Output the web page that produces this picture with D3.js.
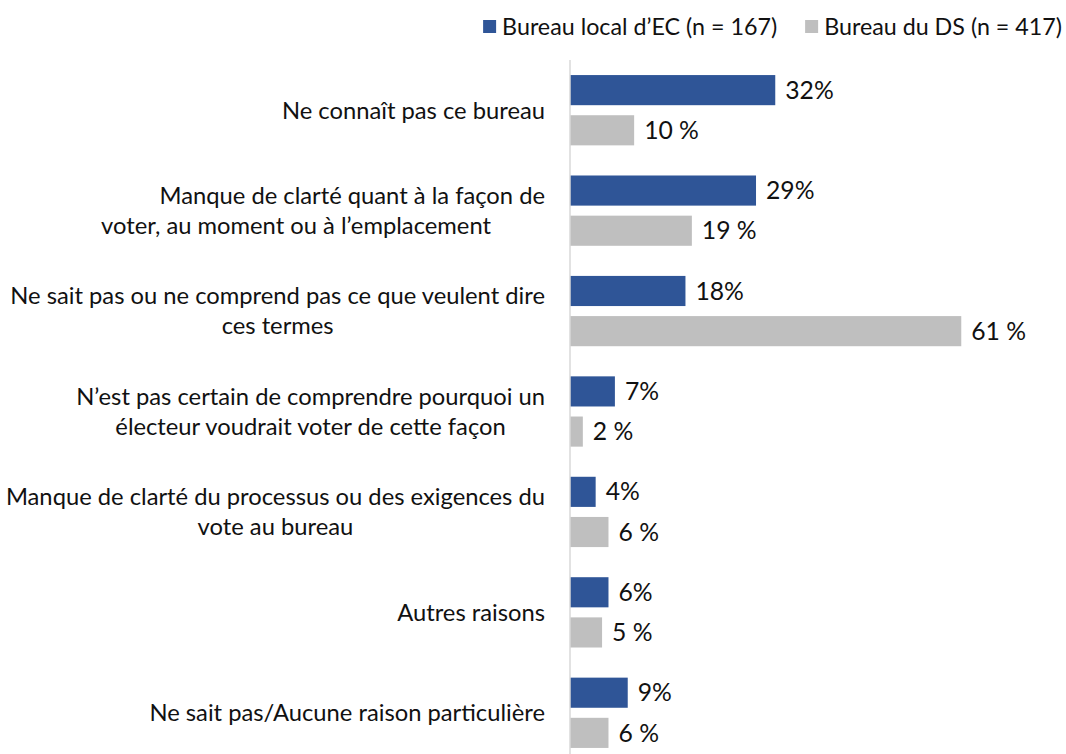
<!DOCTYPE html>
<html>
<head>
<meta charset="utf-8">
<script src="https://cdn.jsdelivr.net/npm/d3@7"></script>
<style>
  html, body { margin: 0; padding: 0; background: #fff; }
  svg text { font-family: Lato, "Open Sans", sans-serif; fill: #111; }
</style>
</head>
<body>
<svg id="chart" width="1066" height="754"></svg>
<script>
// ── Data ──
const categories = [
  ['Ne connaît pas ce bureau'],
  ['Manque de clarté quant à la façon de', 'voter, au moment ou à l’emplacement'],
  ['Ne sait pas ou ne comprend pas ce que veulent dire', 'ces termes'],
  ['N’est pas certain de comprendre pourquoi un', 'électeur voudrait voter de cette façon'],
  ['Manque de clarté du processus ou des exigences du', 'vote au bureau'],
  ['Autres raisons'],
  ['Ne sait pas/Aucune raison particulière']
];
const seriesKeys   = ['ec', 'ds'];
const seriesNames  = ['Bureau local d’EC (n = 167)', 'Bureau du DS (n = 417)'];
const ecValues     = [32, 29, 18, 7, 4, 6, 9];
const dsValues     = [10, 19, 61, 2, 6, 5, 6];

const COLORS = { ec: '#2F5597', ds: '#BFBFBF' };
const FMT = { ec: v => v + '%', ds: v => v + '\u00A0%' };

const svg = d3.select('#chart');
const AXIS_X = 570, LABEL_RIGHT = 545, LINE_H = 30;

// ── Fit font so the widest category line matches the reference width ──
const probe = svg.append('text').attr('font-size', 20).text(categories[2][0]);
const fs = 20 * 535 / probe.node().getComputedTextLength();
probe.remove();

const rows = categories.map((lines, i) => ({ i, lines, ec: ecValues[i], ds: dsValues[i] }));

const y0 = d3.scaleBand().domain(d3.range(categories.length))
  .range([60, 763]).paddingInner(0.3).paddingOuter(0.15);
const y1 = d3.scaleBand().domain(seriesKeys).range([0, y0.bandwidth()]).paddingInner(0.25);
const x = d3.scaleLinear().domain([0, 70]).range([AXIS_X, 1019]);

// ── Bars ──
const groups = svg.append('g').selectAll('g').data(rows).join('g')
  .attr('transform', d => `translate(0,${y0(d.i)})`);

groups.selectAll('rect').data(d => seriesKeys.map(k => ({ k, v: d[k] }))).join('rect')
  .attr('x', x(0)).attr('y', d => y1(d.k))
  .attr('width', d => x(d.v) - x(0)).attr('height', y1.bandwidth())
  .attr('fill', d => COLORS[d.k]);

groups.selectAll('text.val').data(d => seriesKeys.map(k => ({ k, v: d[k] }))).join('text')
  .attr('class', 'val')
  .attr('x', d => x(d.v) + 10).attr('y', d => y1(d.k) + y1.bandwidth() / 2)
  .attr('dy', '0.35em').attr('font-size', fs * 1.04)
  .text(d => FMT[d.k](d.v));

// ── Axis line ──
svg.append('line').attr('x1', AXIS_X).attr('x2', AXIS_X).attr('y1', 60).attr('y2', 763)
  .attr('stroke', '#D9D9D9').attr('stroke-width', 1.5);

// ── Category labels (each line centred under the first, first line ends at the axis gap) ──
const LINE2_SHIFT = { 1: -54 };
rows.forEach(d => {
  const cy = y0(d.i) + y0.bandwidth() / 2;
  const widths = d.lines.map(s => {
    const p = svg.append('text').attr('font-size', fs).text(s);
    const w = p.node().getComputedTextLength();
    p.remove();
    return w;
  });
  const cx = LABEL_RIGHT - widths[0] / 2;
  d.lines.forEach((s, j) => {
    let sx = cx;
    if (j > 0) sx = Math.min(cx, LABEL_RIGHT - widths[j] / 2) + (LINE2_SHIFT[d.i] || 0);
    svg.append('text').attr('font-size', fs).attr('text-anchor', 'middle')
      .attr('x', sx).attr('y', cy + (j - (d.lines.length - 1) / 2) * LINE_H).attr('dy', '0.35em')
      .text(s);
  });
});

// ── Legend (right-aligned to the chart's right edge) ──
const legend = svg.append('g');
let lx = 1062;
for (let i = seriesKeys.length - 1; i >= 0; i--) {
  const k = seriesKeys[i];
  const t = legend.append('text').attr('y', 27).attr('dy', '0.35em')
    .attr('font-size', fs * 0.98).text(seriesNames[i]);
  const w = t.node().getComputedTextLength();
  t.attr('x', lx - w);
  legend.append('rect').attr('x', lx - w - 19).attr('y', 20).attr('width', 13).attr('height', 13)
    .attr('fill', COLORS[k]);
  lx = lx - w - 19 - 28;
}
</script>
</body>
</html>
